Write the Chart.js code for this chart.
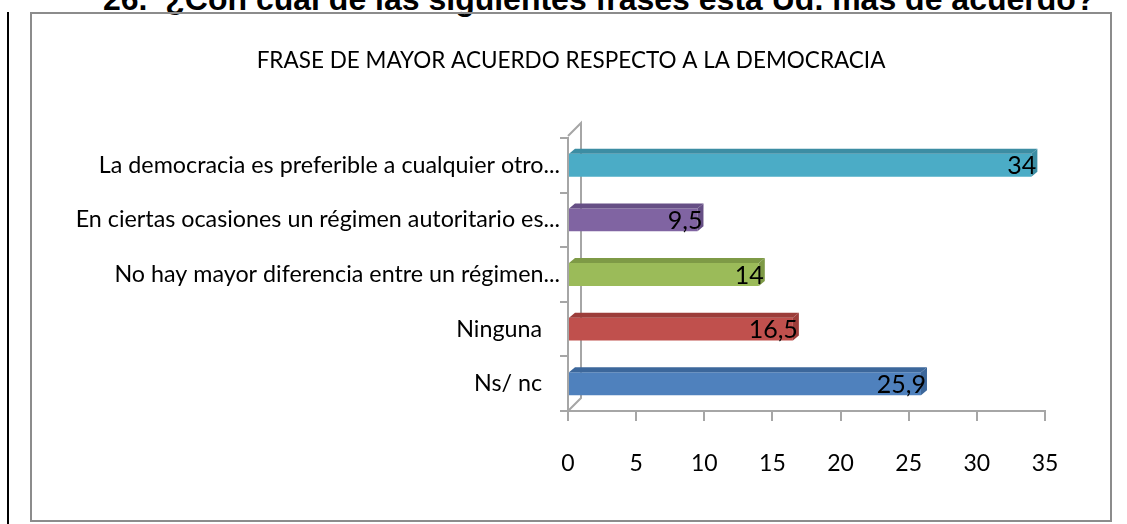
<!DOCTYPE html>
<html lang="es">

<head>
    <meta charset="UTF-8">
    <title>Frase de mayor acuerdo</title>
    <script src="https://cdn.jsdelivr.net/npm/chart.js"></script>
    <style>
        body { margin: 0; background: #fff; width: 1127px; height: 524px; overflow: hidden; position: relative; }
        .pregunta {
            position: absolute; left: 103px; top: -17px; white-space: nowrap;
            font: bold 32px/32px "Liberation Sans", Arial, sans-serif; color: #000;
        }
        .barra { position: absolute; left: 7px; top: 12px; width: 2px; height: 512px; background: #000; }
        .marco {
            position: absolute; left: 30px; top: 12px; width: 1078px; height: 506px;
            border: 2px solid #8c8c8c;
        }
        canvas { display: block; }
    </style>
</head>

<body>
    <div class="pregunta">26.&nbsp; ¿Con cuál de las siguientes frases está Ud. más de acuerdo?</div>
    <div class="barra"></div>
    <div class="marco">
        <canvas id="grafico" width="1078" height="506"></canvas>
    </div>

<script>
    // datos
    const frases = [
        'La democracia es preferible a cualquier otro...',
        'En ciertas ocasiones un régimen autoritario es...',
        'No hay mayor diferencia entre un régimen...',
        'Ninguna   ',
        'Ns/ nc   '
    ];
    const porcentajes = [34, 9.5, 14, 16.5, 25.9];
    const escalaX = { min: 0, max: 35, paso: 5 };

    const colores = ['#4BACC6', '#8064A2', '#9BBB59', '#C0504D', '#4F81BD'];
    const coloresTapa = ['#3C8DA3', '#664F85', '#7E9A46', '#9C3D3A', '#3C679B'];

    const fuente = 'Lato';

    // caras 3D, pared lateral y etiquetas de valor
    const efecto3d = {
        id: 'efecto3d',
        beforeDatasetsDraw(chart) {
            const { ctx, chartArea } = chart;
            const L = chartArea.left, T = chartArea.top, B = chartArea.bottom, d = 13;
            ctx.save();
            ctx.strokeStyle = '#a6a6a6';
            ctx.lineWidth = 2;
            ctx.beginPath();
            ctx.moveTo(L, T - 2);
            ctx.lineTo(L + d, T - d - 2);
            ctx.lineTo(L + d, B - d);
            ctx.lineTo(L, B);
            ctx.stroke();
            ctx.restore();
        },
        afterDatasetsDraw(chart) {
            const { ctx } = chart;
            const meta = chart.getDatasetMeta(0);
            const dx = 6, dy = 5;
            ctx.save();
            meta.data.forEach((bar, i) => {
                const p = bar.getProps(['x', 'y', 'base', 'height'], true);
                const top = p.y - p.height / 2, bot = p.y + p.height / 2;
                ctx.fillStyle = coloresTapa[i];
                ctx.beginPath();
                ctx.moveTo(p.base, top);
                ctx.lineTo(p.x, top);
                ctx.lineTo(p.x + dx, top - dy);
                ctx.lineTo(p.base + dx, top - dy);
                ctx.closePath();
                ctx.fill();
                ctx.beginPath();
                ctx.moveTo(p.x, top);
                ctx.lineTo(p.x + dx, top - dy);
                ctx.lineTo(p.x + dx, bot - dy);
                ctx.lineTo(p.x, bot);
                ctx.closePath();
                ctx.fill();

                ctx.fillStyle = '#000';
                ctx.font = `25px ${fuente}`;
                ctx.textAlign = 'right';
                ctx.textBaseline = 'middle';
                ctx.fillText(String(porcentajes[i]).replace('.', ','), p.x + 5, p.y + 1);
            });
            ctx.restore();
        }
    };

    new Chart(document.getElementById('grafico'), {
        type: 'bar',
        data: {
            labels: frases,
            datasets: [{
                data: porcentajes,
                backgroundColor: colores,
                borderWidth: 0,
                barPercentage: 0.42,
                categoryPercentage: 1
            }]
        },
        options: {
            indexAxis: 'y',
            responsive: false,
            animation: false,
            layout: { padding: 0 },
            scales: {
                x: {
                    min: escalaX.min,
                    max: escalaX.max,
                    afterFit: (s) => { s.height = 109; s.paddingLeft = 0; s.paddingRight = 65; },
                    ticks: { stepSize: escalaX.paso, color: '#000', padding: 29, font: { family: fuente, size: 23 } },
                    grid: { drawOnChartArea: false, drawTicks: true, tickLength: 10, color: '#a6a6a6', lineWidth: 2 },
                    border: { display: true, color: '#a6a6a6', width: 2 }
                },
                y: {
                    afterFit: (s) => { s.width = 536; },
                    ticks: { color: '#000', padding: 0, autoSkip: false, font: { family: fuente, size: 23.3 } },
                    grid: { drawOnChartArea: false, drawTicks: true, tickLength: 8, offset: true, color: '#a6a6a6', lineWidth: 2 },
                    border: { display: true, color: '#a6a6a6', width: 2 }
                }
            },
            plugins: {
                legend: { display: false },
                tooltip: { enabled: false },
                title: {
                    display: true,
                    text: 'FRASE DE MAYOR ACUERDO RESPECTO A LA DEMOCRACIA',
                    color: '#000',
                    font: { family: fuente, size: 22.5, weight: 'normal' },
                    padding: { top: 33, bottom: 64 }
                }
            }
        },
        plugins: [efecto3d]
    });
</script>
</body>

</html>
